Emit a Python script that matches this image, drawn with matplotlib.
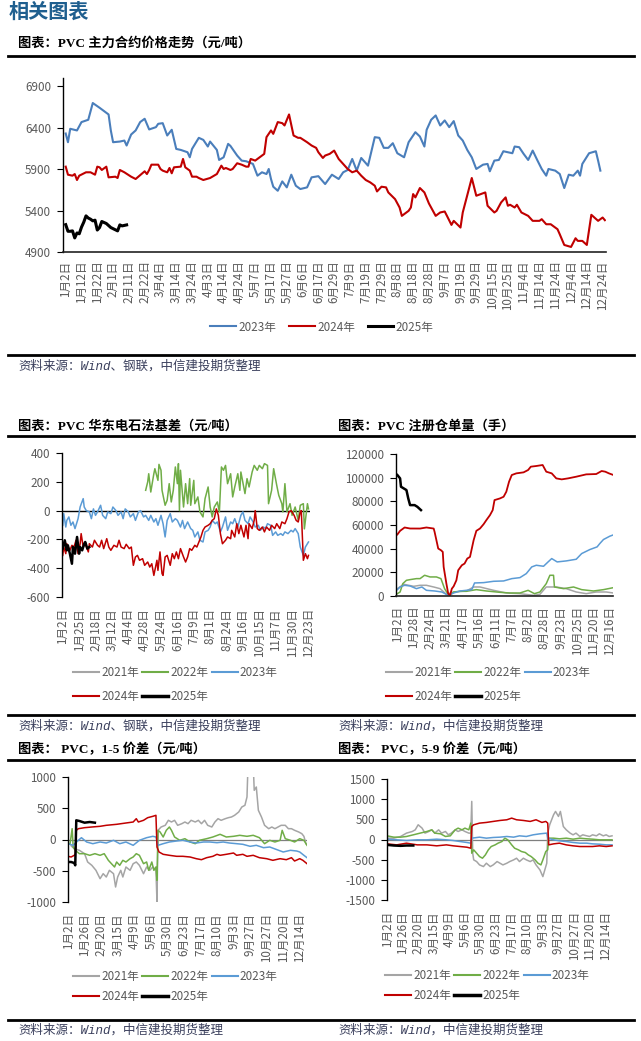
import matplotlib
matplotlib.use("Agg")
import matplotlib.pyplot as plt
from matplotlib.lines import Line2D

plt.rcParams['font.family'] = ['Noto Sans CJK SC', 'DejaVu Sans']
plt.rcParams['axes.unicode_minus'] = False

# ---------------- data ----------------
price_ticks = ['1月2日', '1月12日', '1月22日', '2月1日', '2月11日', '2月22日', '3月4日', '3月14日',
               '3月24日', '4月3日', '4月14日', '4月24日', '5月7日', '5月17日', '5月27日', '6月6日',
               '6月17日', '6月29日', '7月9日', '7月19日', '7月29日', '8月8日', '8月18日', '8月28日',
               '9月7日', '9月19日', '9月29日', '10月15日', '10月25日', '11月4日', '11月14日',
               '11月24日', '12月4日', '12月14日', '12月24日']
price23_day = [0, 1, 2, 5, 7, 10, 12, 15, 19, 20, 21, 24, 26, 27, 29, 31, 33, 35, 37, 40, 41, 43, 45, 47, 49,
               51, 54, 55, 56, 59, 61, 63, 64, 67, 68, 70, 72, 73, 76, 78, 80, 83, 85, 87, 89, 90, 91, 92,
               94, 96, 98, 100, 102, 104, 107, 109, 112, 115, 118, 121, 123, 125, 127, 129, 131, 134, 137,
               139, 141, 143, 145, 147, 150, 152, 155, 157, 159, 160, 162, 164, 166, 168, 170, 172, 174,
               176, 178, 180, 182, 185, 187, 188, 190, 192, 194, 198, 199, 201, 203, 205, 207, 209, 211,
               213, 214, 217, 219, 221, 223, 225, 227, 228, 229, 232, 235, 236, 237]
price23_val = [6330, 6225, 6387, 6367, 6468, 6496, 6698, 6641, 6560, 6367, 6225, 6233, 6245, 6185, 6318,
               6367, 6468, 6508, 6379, 6407, 6447, 6455, 6306, 6375, 6144, 6132, 6104, 6043, 6144, 6278,
               6253, 6173, 6233, 6132, 6011, 6043, 6205, 6181, 6064, 6003, 5995, 5963, 5821, 5862, 5841,
               5902, 5781, 5688, 5639, 5752, 5680, 5833, 5700, 5660, 5680, 5801, 5815, 5720, 5833, 5781,
               5862, 5890, 6023, 5882, 6035, 5942, 6286, 6278, 6157, 6157, 6213, 6092, 6043, 6225, 6346,
               6294, 6173, 6375, 6496, 6548, 6427, 6488, 6407, 6480, 6306, 6245, 6132, 6043, 5902, 5954,
               5963, 5874, 6003, 6011, 6116, 6092, 6173, 6165, 6084, 6011, 6124, 6011, 5902, 5821, 5902,
               5882, 5841, 5672, 5833, 5821, 5882, 5821, 5963, 6092, 6116, 6003, 5882]
price24_day = [0, 1, 3, 4, 5, 6, 9, 11, 13, 14, 15, 16, 18, 19, 22, 23, 24, 26, 29, 31, 34, 35, 36, 37, 38,
               41, 42, 43, 45, 46, 47, 48, 51, 52, 53, 55, 56, 58, 59, 61, 64, 67, 69, 70, 71, 73, 74, 76,
               78, 80, 81, 82, 84, 86, 88, 89, 91, 92, 94, 96, 97, 99, 101, 103, 104, 107, 109, 111, 112,
               114, 115, 117, 119, 121, 123, 125, 127, 129, 131, 133, 135, 137, 138, 140, 142, 143, 146,
               148, 149, 152, 153, 154, 155, 157, 159, 161, 164, 166, 168, 169, 171, 172, 175, 176, 180,
               182, 184, 186, 187, 190, 191, 193, 195, 196, 197, 199, 200, 202, 205, 207, 210, 211, 213,
               215, 218, 219, 221, 224, 226, 227, 229, 231, 233, 236, 238, 239]
price24_val = [5930, 5833, 5821, 5841, 5769, 5821, 5862, 5862, 5833, 5930, 5922, 5890, 5930, 5801, 5809,
               5793, 5890, 5862, 5809, 5781, 5850, 5874, 5841, 5890, 5954, 5954, 5902, 5882, 5862, 5914,
               5850, 5922, 5930, 6023, 5922, 5882, 5809, 5809, 5793, 5769, 5793, 5841, 5942, 5902, 5914,
               5890, 5902, 5971, 5954, 5930, 5930, 6023, 6003, 6043, 6084, 6286, 6367, 6326, 6468, 6455,
               6427, 6560, 6306, 6278, 6278, 6225, 6185, 6157, 6104, 6035, 6064, 6084, 6124, 6023, 5963,
               5902, 5862, 5882, 5821, 5769, 5740, 5700, 5631, 5688, 5680, 5619, 5538, 5437, 5336, 5397,
               5437, 5599, 5559, 5672, 5619, 5486, 5336, 5377, 5389, 5336, 5227, 5276, 5195, 5377, 5793,
               5579, 5599, 5619, 5458, 5377, 5397, 5498, 5559, 5458, 5470, 5437, 5470, 5377, 5336, 5276,
               5276, 5296, 5235, 5235, 5175, 5114, 4985, 4961, 5066, 5034, 5034, 4985, 5349, 5276, 5316,
               5284]
price25_day = [0, 1, 2, 3, 4, 5, 6, 7, 8, 9, 10, 11, 12, 13, 14, 15, 16, 18, 20, 23, 24, 25, 27]
price25_val = [5230, 5150, 5150, 5155, 5070, 5130, 5120, 5200, 5260, 5336, 5310, 5296, 5276, 5284, 5165,
               5195, 5268, 5244, 5195, 5155, 5227, 5215, 5227]

basis_ticks = ['1月2日', '1月25日', '2月18日', '3月12日', '4月4日', '4月28日', '5月24日', '6月16日',
               '7月9日', '8月1日', '8月24日', '9月16日', '10月15日', '11月7日', '11月30日', '12月23日']
basis22_day = [81, 83, 84, 86, 89, 90, 93, 94, 96, 97, 100, 102, 104, 106, 108, 110, 112, 113, 114, 115,
               118, 120, 122, 124, 125, 128, 129, 132, 134, 137, 139, 142, 144, 146, 148, 151, 153, 155,
               157, 159, 161, 164, 166, 168, 171, 173, 174, 178, 180, 182, 185, 187, 190, 192, 195, 197,
               200, 201, 204, 206, 209, 211, 214, 215, 217, 219, 222, 224, 227, 230, 232, 235, 236, 239, 240]
basis22_val = [141, 199, 256, 129, 256, 291, 210, 321, 280, 141, 37, 72, 187, 60, 141, 303, 187, 326, 0,
               280, 25, 187, 48, 222, 37, 210, 48, 95, -9, -44, 83, 164, 25, -44, 25, 60, -9, 303, 280,
               314, 187, 256, 95, 164, 256, 141, 268, 118, 222, 164, 268, 314, 280, 314, 291, 326, 314,
               48, 141, 291, 176, 106, 48, -9, 187, -9, 48, -33, 25, -67, 37, 48, -127, 48, 12]
basis23_day = [0, 1, 3, 4, 6, 8, 10, 12, 15, 17, 20, 21, 23, 26, 28, 30, 32, 34, 37, 39, 42, 44, 47, 49,
               52, 54, 57, 59, 61, 64, 66, 69, 71, 74, 76, 79, 81, 84, 86, 89, 91, 93, 96, 98, 100, 102,
               105, 107, 110, 112, 115, 117, 119, 122, 125, 127, 129, 132, 134, 137, 139, 142, 144, 146,
               149, 151, 154, 156, 159, 161, 164, 166, 168, 171, 174, 176, 178, 181, 183, 186, 188, 191,
               193, 196, 198, 200, 203, 205, 208, 210, 213, 215, 217, 220, 223, 225, 227, 230, 232, 235,
               237, 240]
basis23_val = [-102, -21, -114, -68, -44, -102, -79, -125, -56, 25, 83, 25, 0, -9, -56, 12, -33, -9, 37,
               -33, -56, -9, -21, 25, 0, -33, -9, -56, 12, -9, -44, -21, -68, -9, 0, -44, -33, -68, -33,
               -79, -56, -102, -33, -91, -183, -68, -21, -79, -56, -68, -114, -68, -125, -79, -125, -137,
               -183, -148, -206, -218, -148, -137, -114, -68, -91, -79, -148, -114, -44, -137, -79, -91,
               -56, -114, -33, -9, -68, -91, -44, -79, -114, -102, -137, -114, -125, -91, -102, -172,
               -148, -172, -160, -172, -148, -160, -137, -148, -125, -160, -253, -311, -253, -218]
basis24_day = [0, 1, 3, 4, 7, 9, 11, 13, 15, 17, 18, 20, 22, 25, 26, 29, 31, 34, 36, 38, 40, 43, 45, 47,
               50, 53, 55, 57, 60, 62, 65, 67, 69, 71, 73, 75, 78, 80, 83, 85, 87, 89, 92, 93, 95, 97, 98,
               100, 102, 105, 107, 109, 111, 113, 115, 118, 120, 122, 124, 126, 129, 131, 133, 135, 137,
               139, 142, 144, 146, 148, 150, 152, 154, 156, 159, 161, 164, 165, 168, 170, 172, 174, 177,
               179, 181, 182, 185, 187, 188, 190, 192, 195, 197, 199, 202, 204, 207, 209, 212, 214, 217,
               219, 221, 223, 226, 228, 230, 232, 233, 235, 237, 239, 240]
basis24_val = [-311, -253, -299, -230, -276, -241, -253, -206, -299, -230, -160, -253, -230, -287, -230,
               -253, -206, -241, -253, -206, -264, -195, -253, -276, -241, -253, -206, -253, -264, -234,
               -264, -253, -380, -322, -311, -345, -334, -380, -357, -392, -369, -450, -345, -415, -287,
               -438, -450, -322, -311, -380, -299, -334, -287, -334, -264, -322, -357, -322, -264, -276,
               -241, -253, -218, -183, -137, -114, -102, -91, -68, -56, 12, -33, -160, -230, -206, -183,
               -195, -137, -183, -91, -160, -102, -183, -102, -195, -91, -125, -68, 0, -125, -137, -114,
               -148, -114, -137, -102, -125, -91, -125, -79, -91, -56, -9, 0, -33, -68, -79, -9, 0, -345,
               -299, -334, -311]
basis25_day = [0, 2, 4, 5, 7, 9, 10, 12, 14, 16, 17, 19, 21, 22, 24, 26]
basis25_val = [-264, -206, -276, -241, -299, -369, -253, -299, -183, -299, -253, -276, -230, -218, -264, -253]

rcpt_ticks = ['1月2日', '1月28日', '2月24日', '3月21日', '4月17日', '5月16日', '6月11日', '7月7日',
              '8月2日', '8月28日', '9月23日', '10月25日', '11月20日', '12月16日']
rcpt21_day = [0, 7, 18, 25, 32, 40, 47, 54, 62, 76, 84, 91, 106, 120, 135, 150, 157, 164, 175, 186, 197,
              208, 219, 230, 238]
rcpt21_val = [6210, 9880, 8190, 9040, 9040, 7620, 6210, 1410, 3390, 4240, 7620, 7620, 4800, 2540, 1980,
              560, 1410, 7620, 7620, 6210, 3390, 1980, 3390, 3390, 2540]
rcpt22_day = [0, 3, 6, 10, 14, 21, 25, 30, 36, 43, 48, 52, 57, 62, 69, 76, 87, 98, 113, 124, 135, 144,
              151, 157, 164, 168, 172, 173, 183, 194, 203, 216, 227, 238]
rcpt22_val = [1980, 3390, 10450, 13270, 13840, 14680, 14680, 17510, 16100, 16100, 14680, 6210, 0, 3390,
              3950, 3950, 5370, 4240, 3110, 2540, 2540, 4800, 1980, 3390, 10450, 17510, 17510, 7620, 6210,
              7620, 5370, 4240, 5370, 7060]
rcpt23_day = [0, 3, 8, 14, 21, 27, 32, 41, 49, 56, 62, 69, 76, 82, 85, 95, 106, 117, 126, 135, 142, 148,
              153, 161, 166, 170, 176, 186, 197, 203, 212, 220, 223, 227, 234, 237]
rcpt23_val = [5370, 7620, 9040, 8470, 6210, 7620, 4800, 4240, 3390, 560, 2540, 4240, 4800, 5370, 11010,
              11300, 12430, 12710, 14680, 15530, 18920, 24570, 25980, 25130, 28800, 31630, 28800, 29650,
              31060, 35860, 39250, 41510, 44340, 47730, 50550, 51400]
rcpt24_day = [0, 3, 8, 14, 25, 32, 40, 41, 43, 45, 48, 50, 51, 54, 56, 58, 60, 62, 65, 67, 71, 74, 77, 80,
              82, 84, 87, 91, 95, 98, 102, 105, 107, 113, 117, 120, 123, 126, 131, 139, 144, 147, 153,
              160, 164, 170, 175, 181, 188, 197, 208, 219, 225, 229, 233, 238]
rcpt24_val = [51960, 55070, 57900, 57040, 57000, 57900, 57000, 54200, 47160, 40100, 38700, 37280, 24570,
              10450, 1980, 560, 6210, 8190, 13270, 21740, 25980, 27390, 31630, 33040, 40100, 47160, 55070,
              57040, 60710, 64100, 68340, 72580, 81050, 82460, 83870, 88110, 96580, 102230, 103640,
              104490, 106470, 109290, 109860, 110700, 105050, 103640, 99400, 98560, 99400, 100820,
              102790, 103070, 105620, 105050, 103640, 102230]
rcpt25_day = [0, 3, 4, 7, 10, 12, 14, 19, 22, 26]
rcpt25_val = [102230, 99400, 92340, 90930, 89520, 82460, 76810, 76810, 75400, 72580]

spread_ticks = ['1月2日', '1月26日', '2月20日', '3月15日', '4月9日', '5月6日', '5月30日', '6月23日',
                '7月17日', '8月10日', '9月3日', '9月27日', '10月27日', '11月20日', '12月14日']
s15_21_day = [3, 6, 11, 16, 19, 23, 27, 31, 34, 37, 40, 44, 46, 48, 51, 53, 56, 60, 63, 66, 69, 73, 76,
              79, 82, 85, 86, 87, 90, 94, 97, 100, 103, 106, 110, 113, 116, 119, 123, 126, 129, 132, 135,
              139, 142, 145, 148, 152, 155, 158, 161, 165, 168, 171, 173, 174, 179, 180, 182, 184, 187,
              190, 194, 197, 200, 203, 206, 210, 213, 216, 219, 223, 226, 228, 230]
s15_21_val = [-100, -147, -173, -227, -360, -413, -493, -627, -547, -600, -493, -547, -760, -600, -493,
              -600, -440, -493, -387, -360, -413, -547, -440, -493, -440, -493, -1000, 147, 200, 227, 307,
              280, 307, 227, 253, 280, 253, 307, 280, 307, 253, 307, 227, 200, 280, 333, 307, 333, 349,
              360, 387, 440, 520, 547, 680, 1200, 1200, 787, 840, 467, 360, 227, 173, 200, 173, 200, 227,
              227, 173, 173, 147, 120, 93, 51, -67]
s15_22_day = [0, 2, 4, 5, 7, 11, 16, 21, 26, 31, 35, 39, 42, 45, 47, 50, 53, 56, 60, 63, 66, 69, 73, 76,
              78, 81, 83, 85, 86, 87, 89, 92, 95, 98, 100, 103, 108, 113, 118, 123, 127, 134, 140, 147,
              153, 160, 166, 173, 179, 185, 190, 195, 200, 205, 207, 210, 215, 219, 224, 228, 231]
s15_22_val = [-67, -67, 173, -120, -173, -227, -227, -253, -227, -253, -227, -333, -387, -440, -360, -413,
              -333, -360, -307, -280, -227, -253, -387, -360, -493, -360, -493, -440, -653, 147, 120, 40,
              147, 200, 147, 40, -13, 13, -40, -67, -13, 13, 40, 83, 40, 51, 67, 51, 67, 29, -67, -13,
              -40, -13, 147, 13, -13, -40, 13, -13, -93]
s15_23_day = [0, 5, 10, 13, 18, 24, 31, 37, 44, 50, 56, 63, 69, 76, 82, 85, 87, 92, 98, 105, 111, 118,
              124, 131, 137, 144, 150, 156, 163, 169, 176, 182, 189, 195, 202, 208, 215, 221, 224, 228, 231]
s15_23_val = [-67, -93, -13, 29, -40, -67, -40, -56, -13, -67, -40, -93, -13, 29, 51, 40, -93, -67, -40,
              -24, -13, -40, -56, -40, -40, -51, -40, -56, -67, -77, -109, -93, -131, -120, -163, -200,
              -173, -184, -200, -253, -291]
s15_24_day = [0, 3, 6, 7, 8, 10, 16, 23, 31, 37, 47, 56, 63, 66, 68, 73, 77, 82, 85, 86, 88, 92, 98, 105,
              111, 118, 124, 129, 134, 140, 144, 147, 153, 160, 163, 169, 173, 179, 185, 192, 198, 205,
              211, 216, 219, 224, 227, 231]
s15_24_val = [-269, -280, -253, -253, 147, 173, 189, 200, 211, 227, 243, 264, 280, 333, 280, 307, 349, 371,
              387, -120, -200, -237, -253, -269, -269, -280, -307, -323, -291, -269, -237, -253, -237,
              -216, -253, -237, -269, -253, -291, -307, -333, -307, -323, -291, -344, -307, -333, -387]
s15_25_day = [0, 3, 6, 7, 8, 11, 16, 21, 26]
s15_25_val = [-360, -360, -376, -413, 307, 296, 269, 280, 269]

s59_21_day = [0, 7, 14, 20, 26, 29, 32, 36, 39, 43, 46, 49, 53, 56, 60, 63, 66, 70, 73, 77, 80, 84, 86,
              87, 88, 89, 92, 95, 99, 102, 106, 109, 113, 116, 119, 123, 126, 130, 133, 136, 140, 143,
              147, 150, 153, 157, 160, 162, 164, 165, 167, 171, 173, 176, 178, 181, 184, 188, 191, 194,
              198, 201, 205, 208, 211, 215, 218, 222, 225, 228, 231]
s59_21_val = [33, 33, 75, 158, 199, 240, 365, 282, 158, 199, 240, 158, 240, 158, 199, 116, 158, 240, 199,
              240, 199, 158, 158, 945, -340, -505, -547, -630, -671, -588, -671, -630, -547, -588, -630,
              -588, -547, -505, -464, -547, -464, -505, -547, -505, -630, -754, -920, -754, -588, 158,
              365, 613, 696, 572, 696, 323, 240, 158, 116, 158, 75, 116, 91, 75, 116, 91, 141, 91, 116,
              75, 91]
s59_22_day = [0, 7, 14, 20, 27, 34, 41, 46, 49, 55, 60, 65, 70, 73, 77, 80, 84, 86, 87, 89, 92, 95, 98,
              101, 104, 107, 111, 114, 118, 121, 124, 128, 131, 135, 138, 142, 145, 148, 152, 155, 158,
              160, 163, 165, 166, 171, 177, 184, 191, 198, 205, 211, 218, 225, 231]
s59_22_val = [91, 58, 58, 75, 116, 158, 199, 240, 158, 141, 75, 91, 240, 282, 240, 282, 240, 406, -340,
              -257, -340, -423, -464, -381, -257, -174, -133, -91, -50, 33, -8, -133, -216, -257, -298,
              -323, -381, -423, -505, -588, -630, -505, -298, -257, 33, 33, 17, 33, 8, 33, 17, 8, -8, -8, -8]
s59_23_day = [0, 10, 20, 31, 41, 51, 61, 68, 75, 82, 86, 87, 95, 102, 109, 116, 123, 130, 136, 143, 150,
              157, 164, 165, 171, 177, 184, 191, 198, 205, 211, 218, 225, 231]
s59_23_val = [8, -8, -25, -8, -8, 8, -8, -25, -50, -74, -91, 33, 58, 33, 50, 58, 75, 58, 91, 75, 116, 141,
              158, 33, -8, -33, -50, -74, -91, -91, -108, -116, -133, -133]
s59_24_day = [0, 10, 20, 31, 41, 51, 61, 68, 75, 82, 86, 87, 89, 95, 102, 109, 116, 123, 128, 133, 140,
              147, 153, 159, 163, 165, 166, 171, 177, 184, 191, 198, 205, 211, 218, 225, 231]
s59_24_val = [-108, -133, -91, -133, -133, -157, -133, -157, -174, -191, -216, 323, 365, 406, 423, 448, 472,
              489, 530, 489, 472, 448, 489, 423, 448, 406, -133, -108, -91, -133, -157, -174, -174, -174,
              -157, -174, -157]
s59_25_day = [0, 7, 14, 20, 27]
s59_25_val = [-133, -149, -157, -149, -149]

years5 = ['2021年', '2022年', '2023年', '2024年', '2025年']
years3 = ['2023年', '2024年', '2025年']

# ---------------- layout helpers ----------------
W, H = 641, 1041
fig = plt.figure(figsize=(W / 100, H / 100), dpi=100)


def rect(l, t, r, b):
    return [l / W, 1 - b / H, (r - l) / W, (b - t) / H]


def fx(x):
    return x / W


def fy(y):
    return 1 - y / H


TICKC = '#595959'
FS = 8.4
C_GRAY, C_GREEN, C_BLUE, C_RED, C_BLACK = '#A5A5A5', '#70AD47', '#5B9BD5', '#C00000', '#000000'
C_BLUE1 = '#4A7EBB'


def style(ax, xlim, ylim, yticks, step, xlabels, bottom=True, xpad=6):
    ax.set_xlim(*xlim)
    ax.set_ylim(*ylim)
    for s in ['top', 'right']:
        ax.spines[s].set_visible(False)
    ax.spines['left'].set_linewidth(1.0)
    ax.spines['left'].set_color('black')
    if bottom:
        ax.spines['bottom'].set_linewidth(1.2)
        ax.spines['bottom'].set_color('#222222')
    else:
        ax.spines['bottom'].set_visible(False)
    ax.set_yticks(yticks)
    ax.set_yticklabels([str(v) for v in yticks])
    ax.set_xticks([step * i for i in range(len(xlabels))])
    ax.set_xticklabels(xlabels, rotation=90)
    ax.tick_params(axis='y', length=4, width=0.8, pad=4.5, labelsize=FS, labelcolor=TICKC, color='black')
    ax.tick_params(axis='x', length=0, pad=xpad, labelsize=FS, labelcolor=TICKC)
    ax.patch.set_alpha(0)


def hline(y, x0=8, x1=634, lw=2.0):
    fig.add_artist(Line2D([fx(x0), fx(x1)], [fy(y), fy(y)], color='black', lw=lw,
                          transform=fig.transFigure))


TITLE_FAM = ['Liberation Serif', 'Noto Sans CJK SC']
SRC_FAM = ['Liberation Mono', 'Noto Sans CJK SC']


def title(x, y, s):
    fig.text(fx(x), fy(y), s, fontsize=9.5, fontweight='bold', family=TITLE_FAM, va='center', ha='left')


def source(x, y, s):
    fig.text(fx(x), fy(y), s, fontsize=9, style='italic', family=SRC_FAM, va='center', ha='left',
             color='#3A3F5C')


def legend5(x, y, colors, lws, spacing=0.95):
    handles = [Line2D([], [], color=c, lw=lw) for c, lw in zip(colors, lws)]
    order = [0, 3, 1, 4, 2]
    fig.legend([handles[i] for i in order], [years5[i] for i in order], loc='upper left',
               bbox_to_anchor=(fx(x), fy(y)), ncol=3, frameon=False, fontsize=FS, labelcolor=TICKC,
               handlelength=2.2, handletextpad=0.2, columnspacing=0.3, labelspacing=spacing,
               borderpad=0, borderaxespad=0)


# ---------------- header ----------------
fig.text(fx(9), fy(11), '相关图表', fontsize=14.5, fontweight='bold', color='#1F5F8F', va='center',
         ha='left')

# ---------------- chart 1 ----------------
title(18, 43, '图表：PVC 主力合约价格走势（元/吨）')
hline(56)
ax1 = fig.add_axes(rect(63, 78, 606, 252))
ax1.plot(price23_day, price23_val, color=C_BLUE1, lw=1.5)
ax1.plot(price24_day, price24_val, color=C_RED, lw=1.5)
ax1.plot(price25_day, price25_val, color=C_BLACK, lw=2.2)
style(ax1, (-1.2, 239.5), (4900, 7000), [4900, 5400, 5900, 6400, 6900], 7, price_ticks, xpad=6)
h1 = [Line2D([], [], color=c, lw=lw) for c, lw in [(C_BLUE1, 1.5), (C_RED, 1.5), (C_BLACK, 2.2)]]
fig.legend(h1, years3, loc='center', bbox_to_anchor=(fx(322), fy(327)), ncol=3, frameon=False,
           fontsize=FS, labelcolor=TICKC, handlelength=2.2, handletextpad=0.2, columnspacing=1.1,
           borderpad=0, borderaxespad=0)
hline(355)
source(18, 366, '资料来源：Wind、钢联，中信建投期货整理')

# ---------------- chart 2 ----------------
title(18, 426, '图表：PVC 华东电石法基差（元/吨）')
title(338, 426, '图表：PVC 注册仓单量（手）')
hline(436)

ax2 = fig.add_axes(rect(62, 453, 310, 597))
ax2.axhline(0, color='black', lw=1.0, zorder=1.5)
ax2.plot(basis22_day, basis22_val, color=C_GREEN, lw=1.1)
ax2.plot(basis23_day, basis23_val, color=C_BLUE, lw=1.1)
ax2.plot(basis24_day, basis24_val, color=C_RED, lw=1.1)
ax2.plot(basis25_day, basis25_val, color=C_BLACK, lw=1.8)
style(ax2, (-0.7, 241.5), (-600, 400), [-600, -400, -200, 0, 200, 400], 16, basis_ticks,
      bottom=False, xpad=8)
legend5(73, 666, [C_GRAY, C_GREEN, C_BLUE, C_RED, C_BLACK], [1.5, 1.5, 1.5, 1.5, 2.5])

ax3 = fig.add_axes(rect(396, 454, 613, 596))
ax3.plot(rcpt21_day, rcpt21_val, color=C_GRAY, lw=1.1)
ax3.plot(rcpt22_day, rcpt22_val, color=C_GREEN, lw=1.1)
ax3.plot(rcpt23_day, rcpt23_val, color=C_BLUE, lw=1.1)
ax3.plot(rcpt24_day, rcpt24_val, color=C_RED, lw=1.3)
ax3.plot(rcpt25_day, rcpt25_val, color=C_BLACK, lw=1.8)
style(ax3, (-1.5, 237.5), (0, 120000), [0, 20000, 40000, 60000, 80000, 100000, 120000], 18,
      rcpt_ticks, bottom=True, xpad=7)
legend5(386, 666, [C_GRAY, C_GREEN, C_BLUE, C_RED, C_BLACK], [1.5, 1.5, 1.5, 1.5, 2.5])

hline(715)
source(18, 726, '资料来源：Wind、钢联，中信建投期货整理')
source(338, 726, '资料来源：Wind，中信建投期货整理')

# ---------------- chart 3 ----------------
title(18, 750, '图表： PVC，1-5 价差（元/吨）')
title(338, 750, '图表： PVC，5-9 价差（元/吨）')
hline(760)

ax4 = fig.add_axes(rect(68, 777, 307, 902))
ax4.axhline(0, color='#7F7F7F', lw=0.9, zorder=1.5)
ax4.plot(s15_21_day, s15_21_val, color=C_GRAY, lw=1.1)
ax4.plot(s15_22_day, s15_22_val, color=C_GREEN, lw=1.1)
ax4.plot(s15_23_day, s15_23_val, color=C_BLUE, lw=1.1)
ax4.plot(s15_24_day, s15_24_val, color=C_RED, lw=1.1)
ax4.plot(s15_25_day, s15_25_val, color=C_BLACK, lw=1.8)
style(ax4, (0, 231), (-1000, 1000), [-1000, -500, 0, 500, 1000], 16, spread_ticks, bottom=False, xpad=8)
legend5(73, 970, [C_GRAY, C_GREEN, C_BLUE, C_RED, C_BLACK], [1.5, 1.5, 1.5, 1.5, 2.5], spacing=0.6)

ax5 = fig.add_axes(rect(387, 779, 613, 900))
ax5.axhline(0, color='#7F7F7F', lw=0.9, zorder=1.5)
ax5.plot(s59_21_day, s59_21_val, color=C_GRAY, lw=1.1)
ax5.plot(s59_22_day, s59_22_val, color=C_GREEN, lw=1.1)
ax5.plot(s59_23_day, s59_23_val, color=C_BLUE, lw=1.1)
ax5.plot(s59_24_day, s59_24_val, color=C_RED, lw=1.1)
ax5.plot(s59_25_day, s59_25_val, color=C_BLACK, lw=1.8)
style(ax5, (0, 232), (-1500, 1500), [-1500, -1000, -500, 0, 500, 1000, 1500], 16, spread_ticks,
      bottom=False, xpad=8)
legend5(385, 969, [C_GRAY, C_GREEN, C_BLUE, C_RED, C_BLACK], [1.5, 1.5, 1.5, 1.5, 2.5], spacing=0.6)

hline(1020)
source(18, 1030, '资料来源：Wind，中信建投期货整理')
source(338, 1030, '资料来源：Wind，中信建投期货整理')

fig.savefig('out.png', dpi=100)
